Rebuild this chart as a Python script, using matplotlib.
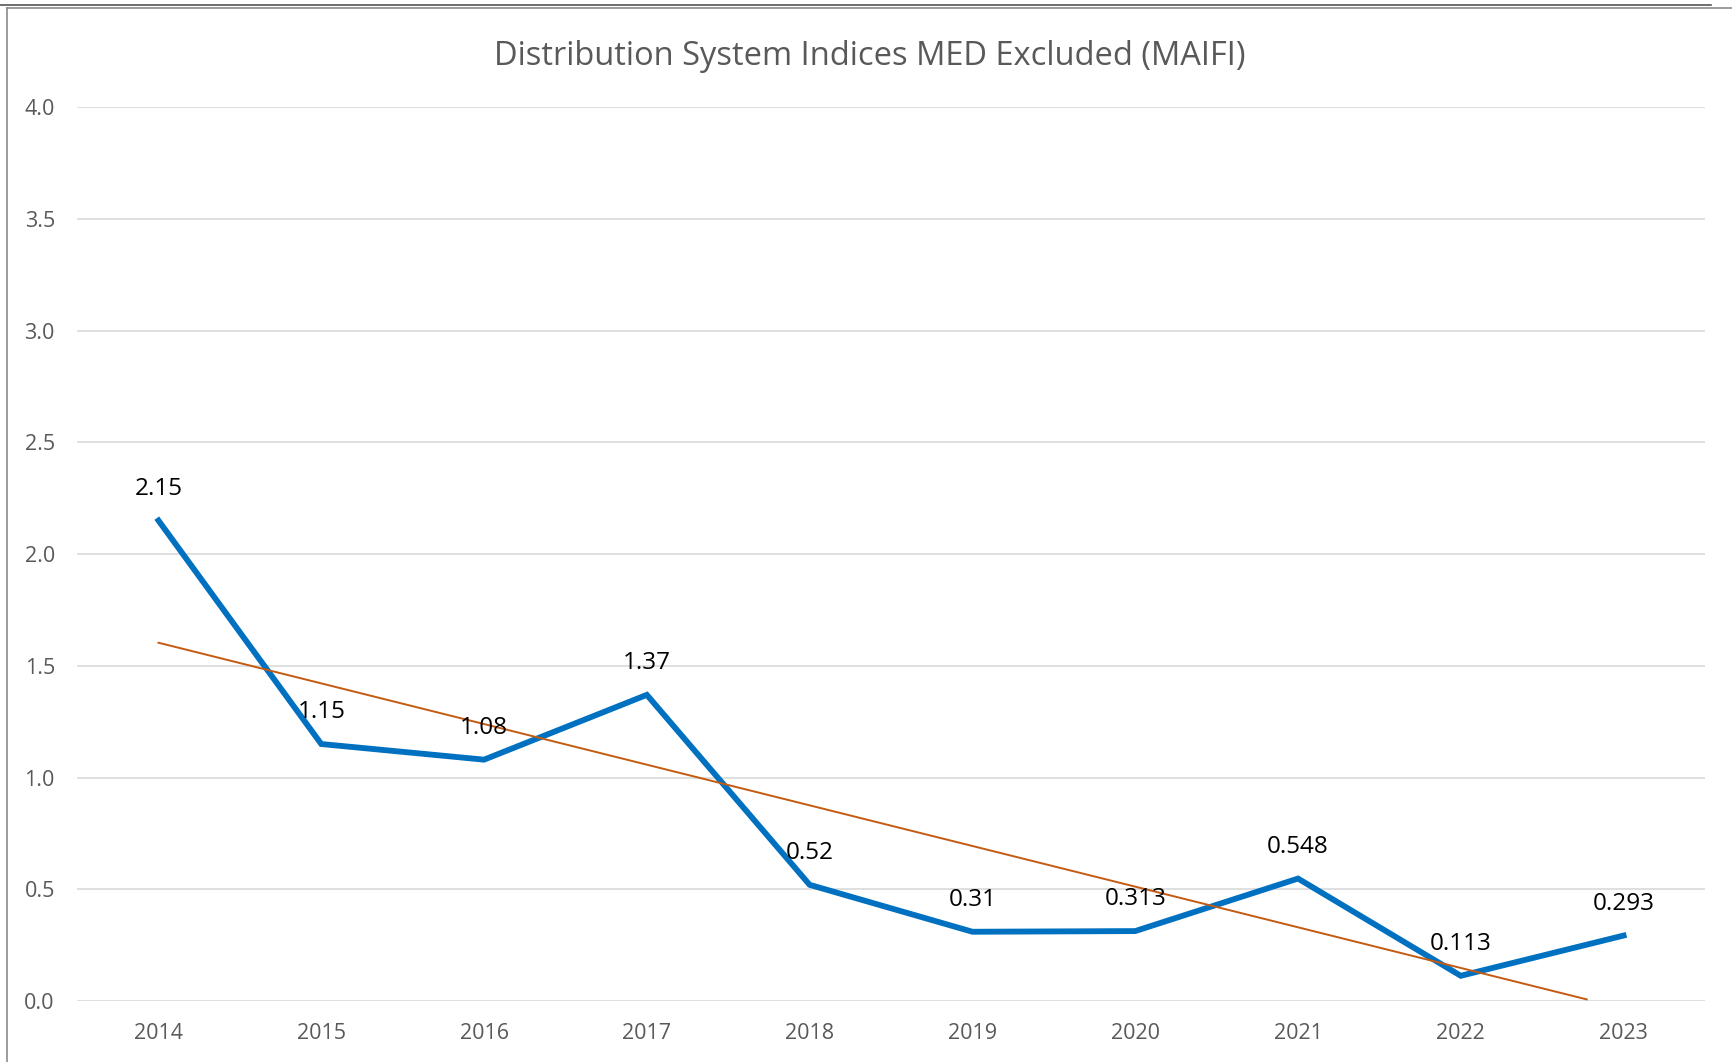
import matplotlib
matplotlib.use("Agg")
import matplotlib.pyplot as plt
from matplotlib.lines import Line2D
import numpy as np

# data
years = ["2014", "2015", "2016", "2017", "2018", "2019", "2020", "2021", "2022", "2023"]
maifi = [2.15, 1.15, 1.08, 1.37, 0.52, 0.31, 0.313, 0.548, 0.113, 0.293]
labels = ["2.15", "1.15", "1.08", "1.37", "0.52", "0.31", "0.313", "0.548", "0.113", "0.293"]
y_ticks = [0.0, 0.5, 1.0, 1.5, 2.0, 2.5, 3.0, 3.5, 4.0]

BLUE = "#0070C0"
TREND = "#C55A11"
GRID = "#D9D9D9"
AXTXT = "#595959"

plt.rcParams["font.family"] = ["Open Sans", "DejaVu Sans"]

fig = plt.figure(figsize=(17.32, 10.62), dpi=100, facecolor="white")
ax = fig.add_axes([0.0445, 0.0574, 0.9399, 0.8418])

x = np.arange(len(years))
ax.plot(x, maifi, color=BLUE, lw=4.2, solid_joinstyle="miter", zorder=3)

# linear trendline
k, b = np.polyfit(x, maifi, 1)
tx = np.linspace(0, len(years) - 1, 200)
ty = k * tx + b
keep = ty >= 0
ax.plot(tx[keep], ty[keep], color=TREND, lw=1.4, zorder=4)

for xi, yi, lab in zip(x, maifi, labels):
    ax.annotate(lab, (xi, yi), xytext=(0, 23), textcoords="offset points",
                ha="center", va="center", fontsize=17.5, color="black", zorder=5)

ax.set_xlim(-0.5, len(years) - 0.5)
ax.set_ylim(0, 4)
ax.set_xticks(x)
ax.set_xticklabels(years)
ax.set_yticks(y_ticks)
ax.set_yticklabels([f"{v:.1f}" for v in y_ticks])
ax.tick_params(axis="both", length=0, colors=AXTXT, labelsize=15.5)
ax.tick_params(axis="y", pad=16)
ax.tick_params(axis="x", pad=16)
ax.grid(axis="y", color=GRID, lw=1.2)
ax.set_axisbelow(True)
for s in ax.spines.values():
    s.set_visible(False)

fig.text(0.502, 0.947, "Distribution System Indices MED Excluded (MAIFI)",
         ha="center", va="center", fontsize=23.5, color=AXTXT)

# chart frame
fig.add_artist(Line2D([0, 1711 / 1732], [1 - 4.5 / 1062] * 2, color="#555555", lw=1.2))
fig.add_artist(Line2D([7 / 1732, 1], [1 - 8 / 1062] * 2, color="#8a8a8a", lw=1.2))
fig.add_artist(Line2D([7 / 1732] * 2, [0, 1 - 8 / 1062], color="#8a8a8a", lw=1.2))

fig.savefig("out.png", dpi=100, facecolor="white")
